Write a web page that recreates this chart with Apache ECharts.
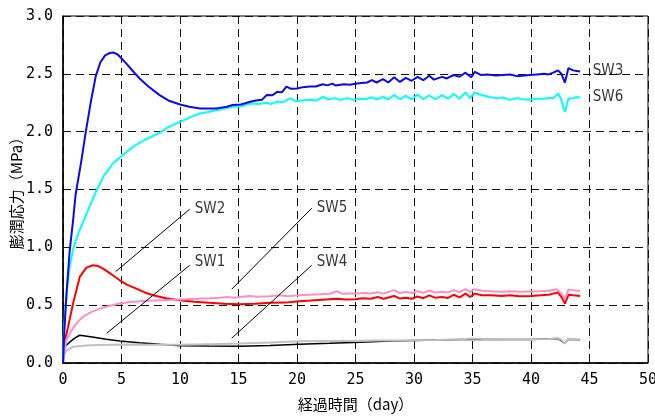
<!DOCTYPE html>
<html>
<head>
<meta charset="utf-8">
<script src="https://cdn.jsdelivr.net/npm/echarts@6/dist/echarts.min.js"></script>
<style>html,body{margin:0;padding:0;background:#fff;}#c{width:655px;height:417px;}</style>
</head>
<body>
<div id="c"></div>
<script>
// ---- data (day, MPa) ----
const sw3 = [[0,0],[0.1,0.25],[0.3,0.6],[0.57,0.97],[0.86,1.23],[1.07,1.45],[1.57,1.75],[1.95,2.0],[2.4,2.27],[2.8,2.48],[3.2,2.6],[3.6,2.66],[4.0,2.68],[4.3,2.685],[4.7,2.665],[5.4,2.59],[6.0,2.52],[6.55,2.46],[7.3,2.39],[8.26,2.316],[9.0,2.27],[10.0,2.235],[10.8,2.215],[11.7,2.2],[13.1,2.2],[14.0,2.215],[14.5,2.23],[15.2,2.235],[16.0,2.258],[16.5,2.27],[17.0,2.275],[17.4,2.316],[17.9,2.315],[18.3,2.344],[18.7,2.34],[19.1,2.39],[19.5,2.37],[20.0,2.374],[20.5,2.385],[21.1,2.39],[21.6,2.39],[22.2,2.41],[22.6,2.40],[23.0,2.415],[23.3,2.40],[24.0,2.41],[24.5,2.405],[25.0,2.415],[25.5,2.42],[26.0,2.425],[26.4,2.445],[26.8,2.425],[27.35,2.454],[27.8,2.425],[28.3,2.47],[28.8,2.43],[29.3,2.465],[29.8,2.44],[30.3,2.474],[30.8,2.445],[31.3,2.483],[31.7,2.45],[32.4,2.474],[32.8,2.46],[33.4,2.49],[33.9,2.475],[34.4,2.51],[34.9,2.47],[35.2,2.518],[35.7,2.49],[36.3,2.495],[37.0,2.485],[37.6,2.49],[38.2,2.495],[38.8,2.48],[39.9,2.49],[40.5,2.495],[41.1,2.50],[41.5,2.495],[41.9,2.51],[42.3,2.53],[42.6,2.5],[42.9,2.425],[43.2,2.55],[43.6,2.53],[43.9,2.525],[44.2,2.52]];
const sw6 = [[0,0],[0.05,0.2],[0.15,0.4],[0.3,0.6],[0.55,0.82],[0.9,1.0],[1.3,1.12],[1.85,1.25],[2.3,1.36],[2.9,1.5],[3.5,1.62],[4.27,1.725],[5.0,1.79],[6.0,1.87],[7.0,1.93],[8.26,1.99],[9.0,2.04],[10.0,2.085],[11.0,2.13],[11.7,2.157],[12.4,2.17],[13.1,2.186],[14.5,2.215],[15.2,2.22],[16.0,2.244],[16.7,2.24],[17.4,2.25],[17.8,2.24],[18.3,2.26],[18.8,2.255],[19.4,2.287],[19.9,2.265],[20.4,2.27],[21.1,2.275],[21.7,2.27],[22.2,2.30],[22.7,2.28],[23.2,2.29],[23.7,2.275],[24.3,2.29],[24.8,2.275],[25.3,2.285],[25.8,2.28],[26.4,2.295],[26.8,2.28],[27.35,2.30],[27.8,2.28],[28.3,2.316],[28.8,2.28],[29.3,2.31],[29.8,2.28],[30.3,2.32],[30.8,2.28],[31.3,2.315],[31.8,2.28],[32.4,2.315],[32.9,2.285],[33.4,2.325],[33.9,2.285],[34.4,2.34],[34.8,2.29],[35.2,2.34],[35.8,2.315],[36.5,2.3],[37.0,2.29],[37.6,2.295],[38.2,2.275],[38.8,2.29],[39.3,2.28],[39.9,2.275],[40.5,2.285],[41.1,2.285],[41.5,2.29],[41.9,2.29],[42.35,2.33],[42.6,2.27],[42.9,2.17],[43.2,2.287],[43.6,2.29],[44.0,2.30],[44.2,2.29]];
const sw2 = [[0,0],[0.1,0.17],[0.43,0.31],[0.85,0.51],[1.43,0.744],[2.0,0.825],[2.56,0.845],[3.0,0.838],[3.42,0.816],[4.1,0.77],[4.85,0.715],[5.5,0.675],[6.27,0.643],[7.0,0.61],[7.7,0.586],[8.8,0.56],[10.0,0.542],[11.2,0.53],[12.5,0.52],[13.8,0.512],[15.1,0.508],[16.4,0.512],[17.7,0.52],[19.0,0.522],[20.2,0.534],[21.2,0.54],[22.5,0.55],[23.4,0.556],[24.2,0.55],[25.0,0.551],[25.6,0.56],[26.3,0.555],[26.9,0.57],[27.4,0.556],[28.3,0.58],[28.8,0.557],[29.3,0.565],[29.8,0.556],[30.3,0.575],[30.8,0.56],[31.3,0.585],[31.8,0.565],[32.4,0.57],[32.9,0.562],[33.4,0.59],[33.9,0.568],[34.4,0.6],[34.8,0.57],[35.2,0.6],[35.8,0.585],[36.6,0.585],[37.5,0.58],[38.2,0.585],[39.0,0.578],[40.0,0.58],[40.8,0.585],[41.5,0.59],[41.9,0.6],[42.3,0.61],[42.6,0.57],[42.9,0.514],[43.2,0.59],[43.6,0.585],[44.2,0.58]];
const sw5 = [[0,0],[0.1,0.08],[0.29,0.2],[0.85,0.3],[1.3,0.36],[1.71,0.40],[2.4,0.44],[3.14,0.47],[4.0,0.495],[4.85,0.514],[5.8,0.527],[6.84,0.536],[8.3,0.543],[10.0,0.548],[11.5,0.555],[12.5,0.56],[13.4,0.565],[14.0,0.57],[14.6,0.565],[15.1,0.571],[16.0,0.58],[16.6,0.572],[17.7,0.577],[18.5,0.585],[19.2,0.578],[20.2,0.586],[21.0,0.59],[22.0,0.594],[22.8,0.598],[23.4,0.62],[23.9,0.598],[24.6,0.6],[25.2,0.6],[25.8,0.605],[26.3,0.6],[26.9,0.612],[27.4,0.6],[28.3,0.63],[28.8,0.605],[29.3,0.615],[29.8,0.605],[30.3,0.62],[30.8,0.607],[31.3,0.625],[31.8,0.61],[32.4,0.615],[32.9,0.61],[33.4,0.63],[33.9,0.612],[34.4,0.638],[34.8,0.615],[35.2,0.638],[35.8,0.625],[36.6,0.62],[37.5,0.617],[38.2,0.62],[39.0,0.615],[40.0,0.618],[40.8,0.62],[41.5,0.625],[42.2,0.638],[42.6,0.6],[42.9,0.551],[43.2,0.635],[43.6,0.63],[44.2,0.62]];
const sw1 = [[0,0],[0.05,0.08],[0.15,0.14],[0.57,0.18],[1.0,0.215],[1.43,0.24],[2.5,0.225],[3.7,0.205],[4.85,0.19],[6.5,0.175],[8.26,0.162],[10.0,0.15],[12.5,0.147],[15.1,0.145],[17.7,0.152],[20.2,0.162],[22.8,0.17],[25.4,0.18],[28.0,0.19],[30.0,0.195],[33.0,0.2],[35.0,0.205],[38.0,0.203],[40.0,0.203],[42.3,0.212],[42.9,0.17],[43.2,0.205],[44.2,0.2]];
const sw4 = [[0,0],[0.05,0.06],[0.29,0.11],[0.85,0.14],[2.28,0.153],[5.4,0.159],[7.5,0.158],[10.0,0.158],[12.5,0.163],[15.1,0.168],[17.7,0.178],[20.2,0.188],[22.8,0.19],[25.0,0.19],[27.0,0.195],[28.5,0.194],[30.0,0.196],[32.0,0.198],[34.0,0.205],[35.0,0.212],[36.0,0.208],[38.0,0.206],[40.0,0.205],[41.5,0.208],[42.3,0.216],[42.6,0.2],[42.9,0.168],[43.2,0.21],[43.6,0.206],[44.2,0.203]];

// annotation labels and leader lines
const labelNames = ['SW2','SW1','SW5','SW4','SW3','SW6'];
const labelPos = [[10.83,1.33],[10.83,0.87],[21.26,1.338],[21.26,0.87],[44.85,2.523],[44.85,2.302]];
const leaderLines = [
  [[4.5,0.79],[10.83,1.33]],
  [[3.73,0.257],[10.83,0.845]],
  [[14.42,0.638],[21.26,1.338]],
  [[14.42,0.214],[21.26,0.845]]
];

const xTicks = {min:0, max:50, interval:5};
const yTicks = {min:0, max:3, interval:0.5};
const xTitle = '経過時間（day）';
const yTitle = '膨潤応力（MPa）';

const chart = echarts.init(document.getElementById('c'), null, {renderer:'canvas'});
const dash = {color:'#111', width:1, type:[8,5]};
const tickFont = {fontFamily:'DejaVu Sans Mono', fontSize:15, color:'#000'};
function lineSeries(name, data, color, width){
  return {name, type:'line', data, showSymbol:false, symbol:'none', smooth:false,
    lineStyle:{color, width}, z:3};
}
chart.setOption({
  animation:false,
  backgroundColor:'#fff',
  grid:{left:63, right:7, top:16, bottom:54, containLabel:false, outerBoundsMode:'none',
    show:true, borderColor:'#000', borderWidth:1, backgroundColor:'transparent'},
  xAxis:{type:'value', min:xTicks.min, max:xTicks.max, interval:xTicks.interval,
    name:xTitle, nameLocation:'middle', nameGap:34, nameMoveOverlap:false,
    nameTextStyle:{fontFamily:'Noto Sans CJK JP', fontSize:15, color:'#000'},
    axisLine:{show:true, lineStyle:{color:'#000', width:1.5}},
    axisTick:{show:false},
    axisLabel:Object.assign({margin:10, formatter:v=>String(v)}, tickFont),
    splitLine:{show:true, lineStyle:dash}},
  yAxis:{type:'value', min:yTicks.min, max:yTicks.max, interval:yTicks.interval,
    name:yTitle, nameLocation:'middle', nameGap:39, nameRotate:90, nameMoveOverlap:false,
    nameTextStyle:{fontFamily:'Noto Sans CJK JP', fontSize:15, color:'#000'},
    axisLine:{show:true, lineStyle:{color:'#000', width:1.5}},
    axisTick:{show:false},
    axisLabel:Object.assign({margin:10, formatter:v=>v.toFixed(1)}, tickFont),
    splitLine:{show:true, lineStyle:dash}},
  series:[
    lineSeries('SW1', sw1, '#000000', 1.5),
    lineSeries('SW4', sw4, '#c0c0c0', 2),
    lineSeries('SW2', sw2, '#ff0000', 2),
    lineSeries('SW5', sw5, '#ff8fc0', 2),
    lineSeries('SW6', sw6, '#00ffff', 2),
    lineSeries('SW3', sw3, '#0a0af0', 2),
    {type:'lines', coordinateSystem:'cartesian2d', polyline:false, silent:true, z:4,
      lineStyle:{color:'#000', width:1, opacity:1},
      data:leaderLines.map(c=>({coords:c}))},
    {type:'scatter', symbolSize:0, silent:true, z:5,
      data:labelPos.map((p,i)=>({value:p, name:labelNames[i]})),
      label:{show:true, position:'right', distance:5, formatter:p=>p.name,
        fontFamily:'Liberation Sans Narrow, DejaVu Sans Condensed, sans-serif', fontSize:15, color:'#000'}}
  ]
});
</script>
</body>
</html>
